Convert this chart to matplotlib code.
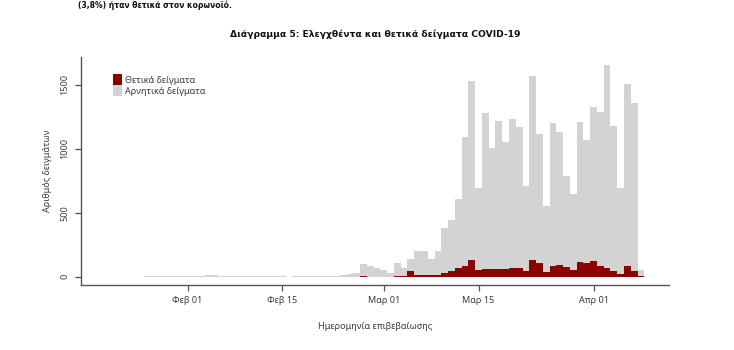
import matplotlib
matplotlib.use("Agg")
import matplotlib.pyplot as plt
import matplotlib.dates as mdates
from matplotlib.patches import Patch
import pandas as pd
import numpy as np

plt.rcParams['font.family'] = ['Noto Sans', 'DejaVu Sans']

dates = pd.date_range("2020-01-26", "2020-04-08", freq="D")

# total samples tested per day (top of grey bar)
total = [
    2, 3, 4, 3, 5, 4,                      # Jan 26-31
    3, 4, 8, 12, 10, 4, 3, 3, 2, 4, 3, 3, 2, 4,   # Feb 1-14
    2, 1, 3, 4, 3, 4, 5, 6, 8, 13, 23, 31, 96, 83, 65,  # Feb 15-29
    52, 26, 104, 65, 138, 200, 200, 138, 203, 378, 443, 608, 1095, 1534, 691,  # Mar 1-15
    1278, 1004, 1218, 1051, 1231, 1168, 712, 1570, 1116, 556, 1200, 1135, 788,
    644, 1208, 1069,                       # Mar 16-31
    1330, 1291, 1659, 1179, 696, 1505, 1356, 52,  # Apr 1-8
]

positive = [
    0, 0, 0, 0, 0, 0,
    0, 0, 0, 0, 0, 0, 0, 0, 0, 0, 0, 0, 0, 0,
    0, 0, 0, 0, 0, 0, 0, 0, 0, 0, 0, 1, 2, 0, 1,
    1, 0, 2, 2, 47, 10, 13, 13, 13, 26, 47, 68, 83, 128, 52,
    63, 63, 57, 57, 70, 65, 47, 130, 110, 37, 86, 94, 73,
    52, 112, 104,
    123, 81, 70, 42, 21, 83, 47, 5,
]

negative = [t - p for t, p in zip(total, positive)]

title = "Διάγραμμα 5: Ελεγχθέντα και θετικά δείγματα COVID-19"
top_text = "(3,8%) ήταν θετικά στον κορωνοϊό."
xlabel = "Ημερομηνία επιβεβαίωσης"
ylabel = "Αριθμός δειγμάτων"
legend_labels = ["Θετικά δείγματα", "Αρνητικά δείγματα"]
tick_dates = pd.to_datetime(["2020-02-01", "2020-02-15", "2020-03-01", "2020-03-15", "2020-04-01"])
tick_labels = ["Φεβ 01", "Φεβ 15", "Μαρ 01", "Μαρ 15", "Απρ 01"]
y_ticks = [0, 500, 1000, 1500]

RED = "#8b0000"
GREY = "#d3d3d3"
TXT = "#3a3a3a"

fig = plt.figure(figsize=(7.34, 3.5), dpi=100)
ax = fig.add_axes([80.7 / 734, 1 - 285 / 350, (669 - 80.7) / 734, (285 - 57) / 350])

x = mdates.date2num(dates)
ax.bar(x, positive, width=1.0, color=RED, linewidth=0)
ax.bar(x, negative, width=1.0, bottom=positive, color=GREY, linewidth=0)

ax.set_xlim(x[0] - 9.8, x[-1] + 4.15)
ax.set_ylim(-65, 1719)

ax.spines['top'].set_visible(False)
ax.spines['right'].set_visible(False)
for s in ['left', 'bottom']:
    ax.spines[s].set_color("#555555")
    ax.spines[s].set_linewidth(1.0)

ax.set_xticks(mdates.date2num(tick_dates))
ax.set_xticklabels(tick_labels, fontsize=6.5, color=TXT, fontweight='bold')
ax.set_yticks(y_ticks)
ax.set_yticklabels([str(v) for v in y_ticks], fontsize=6.5, color=TXT, rotation=90, va='center')
ax.tick_params(axis='both', length=4, width=0.9, color="#555555", pad=4)

ax.set_xlabel(xlabel, fontsize=6.5, color=TXT, labelpad=12)
ax.set_ylabel(ylabel, fontsize=6.5, color=TXT, labelpad=6)

fig.text(375 / 734, 1 - 34 / 350, title, ha='center', va='center', fontsize=6.6,
         fontweight='bold', color="#111111", family=['DejaVu Sans'])

fig.text(78 / 734, 1 - 1 / 350, top_text, ha='left', va='top', fontsize=5.5,
         fontweight='bold', color="#111111", family=['DejaVu Sans'])

handles = [Patch(facecolor=RED, edgecolor='none'), Patch(facecolor=GREY, edgecolor='none')]
ax.legend(handles, legend_labels, loc='upper left', bbox_to_anchor=(0.048, 0.94),
          frameon=False, fontsize=6.5, handlelength=1.1, handleheight=1.5,
          handletextpad=0.3, labelspacing=0.0, borderaxespad=0, labelcolor=TXT)

fig.savefig("out.png", dpi=100)
